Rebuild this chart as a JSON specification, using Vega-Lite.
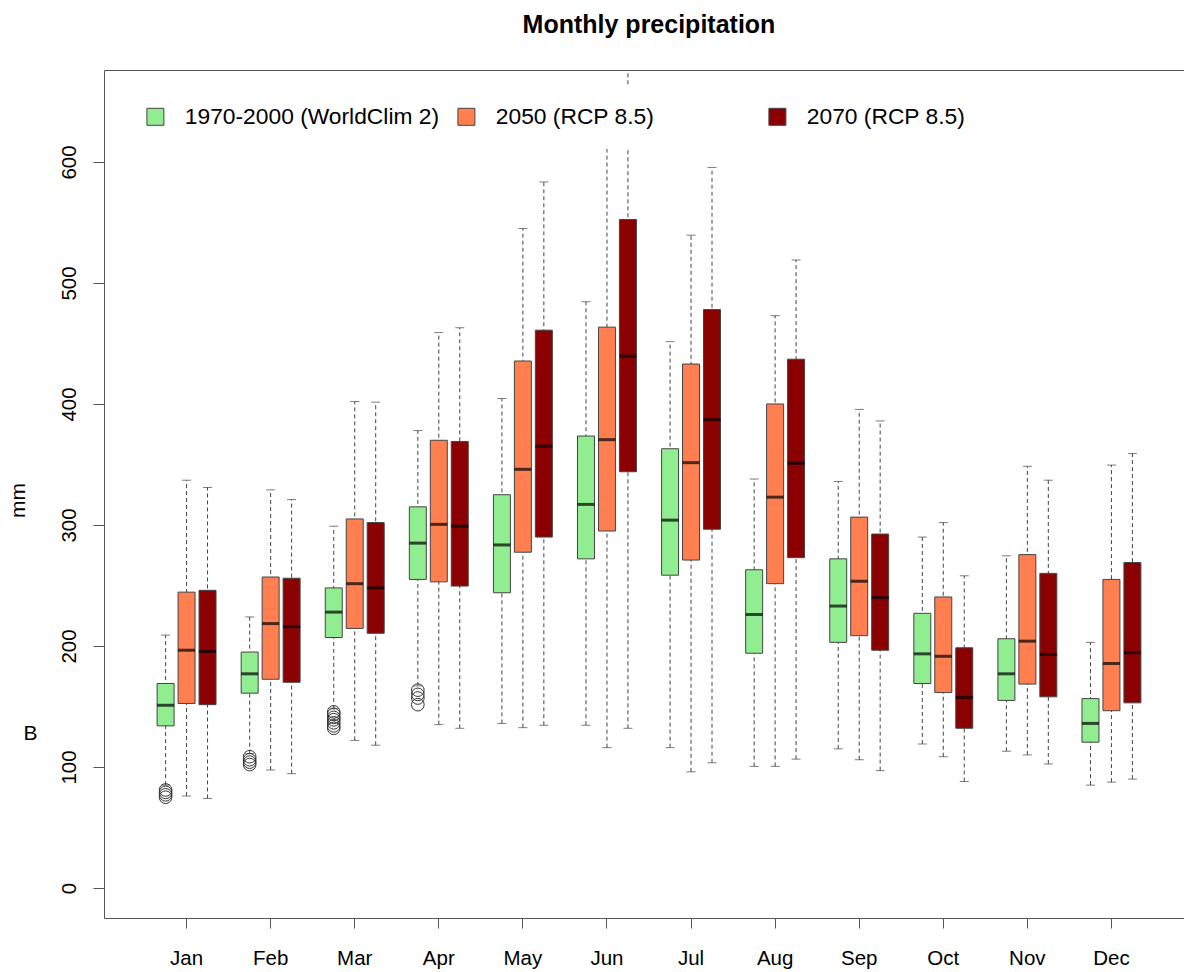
{
  "$schema": "https://vega.github.io/schema/vega-lite/v6.json",
  "autosize": {"type": "none"},
  "width": 1090,
  "height": 848,
  "padding": {"left": 104, "top": 70, "right": 0, "bottom": 54},
  "background": "white",
  "title": {
    "text": "Monthly precipitation",
    "font": "Liberation Sans",
    "fontSize": 25,
    "fontWeight": "bold",
    "color": "black",
    "anchor": "middle",
    "frame": "group",
    "baseline": "alphabetic",
    "offset": 12
  },
  "datasets": {
    "boxes": [
      {"month": "Jan", "period": "1970-2000 (WorldClim 2)", "lo": 85, "q1": 134, "median": 151, "q3": 169, "hi": 209},
      {"month": "Jan", "period": "2050 (RCP 8.5)", "lo": 76, "q1": 152.5, "median": 196.5, "q3": 244.5, "hi": 337},
      {"month": "Jan", "period": "2070 (RCP 8.5)", "lo": 74, "q1": 151.5, "median": 195.5, "q3": 246, "hi": 331},
      {"month": "Feb", "period": "1970-2000 (WorldClim 2)", "lo": 111, "q1": 161, "median": 177, "q3": 195, "hi": 224},
      {"month": "Feb", "period": "2050 (RCP 8.5)", "lo": 97.5, "q1": 172.5, "median": 218.5, "q3": 257, "hi": 329},
      {"month": "Feb", "period": "2070 (RCP 8.5)", "lo": 94.5, "q1": 170, "median": 216, "q3": 256, "hi": 321},
      {"month": "Mar", "period": "1970-2000 (WorldClim 2)", "lo": 148, "q1": 207, "median": 228, "q3": 248, "hi": 299},
      {"month": "Mar", "period": "2050 (RCP 8.5)", "lo": 122, "q1": 214.5, "median": 251.5, "q3": 305, "hi": 402},
      {"month": "Mar", "period": "2070 (RCP 8.5)", "lo": 118, "q1": 210.5, "median": 248, "q3": 302, "hi": 401.5},
      {"month": "Apr", "period": "1970-2000 (WorldClim 2)", "lo": 167, "q1": 255, "median": 285, "q3": 315, "hi": 378},
      {"month": "Apr", "period": "2050 (RCP 8.5)", "lo": 135, "q1": 253, "median": 300.5, "q3": 370, "hi": 459},
      {"month": "Apr", "period": "2070 (RCP 8.5)", "lo": 132, "q1": 249.5, "median": 299, "q3": 369, "hi": 463},
      {"month": "May", "period": "1970-2000 (WorldClim 2)", "lo": 136, "q1": 244, "median": 283.5, "q3": 325, "hi": 404.5},
      {"month": "May", "period": "2050 (RCP 8.5)", "lo": 132.5, "q1": 277.5, "median": 346, "q3": 435.5, "hi": 545},
      {"month": "May", "period": "2070 (RCP 8.5)", "lo": 134.5, "q1": 290, "median": 365, "q3": 461, "hi": 583.5},
      {"month": "Jun", "period": "1970-2000 (WorldClim 2)", "lo": 134.5, "q1": 272, "median": 317, "q3": 373.5, "hi": 484.5},
      {"month": "Jun", "period": "2050 (RCP 8.5)", "lo": 116, "q1": 295, "median": 370.5, "q3": 463.5, "hi": 632},
      {"month": "Jun", "period": "2070 (RCP 8.5)", "lo": 132, "q1": 344, "median": 439.5, "q3": 552.5, "hi": 700},
      {"month": "Jul", "period": "1970-2000 (WorldClim 2)", "lo": 116, "q1": 258.5, "median": 304, "q3": 363, "hi": 451.5},
      {"month": "Jul", "period": "2050 (RCP 8.5)", "lo": 96, "q1": 271, "median": 351.5, "q3": 433, "hi": 539.5},
      {"month": "Jul", "period": "2070 (RCP 8.5)", "lo": 103.5, "q1": 296.5, "median": 387, "q3": 478, "hi": 595.5},
      {"month": "Aug", "period": "1970-2000 (WorldClim 2)", "lo": 100.5, "q1": 194, "median": 226, "q3": 263, "hi": 338},
      {"month": "Aug", "period": "2050 (RCP 8.5)", "lo": 100.5, "q1": 251.5, "median": 323, "q3": 400, "hi": 473},
      {"month": "Aug", "period": "2070 (RCP 8.5)", "lo": 106.5, "q1": 273, "median": 351, "q3": 437, "hi": 519},
      {"month": "Sep", "period": "1970-2000 (WorldClim 2)", "lo": 115, "q1": 203, "median": 233, "q3": 272, "hi": 336},
      {"month": "Sep", "period": "2050 (RCP 8.5)", "lo": 106, "q1": 208.5, "median": 253.5, "q3": 306.5, "hi": 395.5},
      {"month": "Sep", "period": "2070 (RCP 8.5)", "lo": 97, "q1": 196.5, "median": 240, "q3": 292.5, "hi": 386},
      {"month": "Oct", "period": "1970-2000 (WorldClim 2)", "lo": 119, "q1": 169, "median": 193.5, "q3": 227, "hi": 290},
      {"month": "Oct", "period": "2050 (RCP 8.5)", "lo": 108.5, "q1": 161.5, "median": 191.5, "q3": 240.5, "hi": 302},
      {"month": "Oct", "period": "2070 (RCP 8.5)", "lo": 88, "q1": 132, "median": 157.5, "q3": 198.5, "hi": 258},
      {"month": "Nov", "period": "1970-2000 (WorldClim 2)", "lo": 113, "q1": 155, "median": 177, "q3": 206, "hi": 274.5},
      {"month": "Nov", "period": "2050 (RCP 8.5)", "lo": 110, "q1": 168.5, "median": 204, "q3": 275.5, "hi": 348.5},
      {"month": "Nov", "period": "2070 (RCP 8.5)", "lo": 102.5, "q1": 158, "median": 193, "q3": 260, "hi": 337},
      {"month": "Dec", "period": "1970-2000 (WorldClim 2)", "lo": 85, "q1": 120.5, "median": 136, "q3": 156.5, "hi": 203},
      {"month": "Dec", "period": "2050 (RCP 8.5)", "lo": 87.5, "q1": 146.5, "median": 185.5, "q3": 255, "hi": 349.5},
      {"month": "Dec", "period": "2070 (RCP 8.5)", "lo": 90, "q1": 153, "median": 194.5, "q3": 269, "hi": 359}
    ],
    "outliers": [
      {"month": "Jan", "period": "1970-2000 (WorldClim 2)", "value": 75},
      {"month": "Jan", "period": "1970-2000 (WorldClim 2)", "value": 77},
      {"month": "Jan", "period": "1970-2000 (WorldClim 2)", "value": 79},
      {"month": "Jan", "period": "1970-2000 (WorldClim 2)", "value": 81},
      {"month": "Feb", "period": "1970-2000 (WorldClim 2)", "value": 102},
      {"month": "Feb", "period": "1970-2000 (WorldClim 2)", "value": 104},
      {"month": "Feb", "period": "1970-2000 (WorldClim 2)", "value": 106},
      {"month": "Feb", "period": "1970-2000 (WorldClim 2)", "value": 108.5},
      {"month": "Mar", "period": "1970-2000 (WorldClim 2)", "value": 132},
      {"month": "Mar", "period": "1970-2000 (WorldClim 2)", "value": 134},
      {"month": "Mar", "period": "1970-2000 (WorldClim 2)", "value": 136.5},
      {"month": "Mar", "period": "1970-2000 (WorldClim 2)", "value": 139},
      {"month": "Mar", "period": "1970-2000 (WorldClim 2)", "value": 141},
      {"month": "Mar", "period": "1970-2000 (WorldClim 2)", "value": 143.5},
      {"month": "Mar", "period": "1970-2000 (WorldClim 2)", "value": 145.5},
      {"month": "Apr", "period": "1970-2000 (WorldClim 2)", "value": 151.5},
      {"month": "Apr", "period": "1970-2000 (WorldClim 2)", "value": 157},
      {"month": "Apr", "period": "1970-2000 (WorldClim 2)", "value": 160},
      {"month": "Apr", "period": "1970-2000 (WorldClim 2)", "value": 163.5}
    ]
  },
  "encoding": {
    "x": {
      "field": "month",
      "type": "nominal",
      "title": null,
      "scale": {
        "type": "band",
        "domain": ["Jan", "Feb", "Mar", "Apr", "May", "Jun", "Jul", "Aug", "Sep", "Oct", "Nov", "Dec"],
        "paddingInner": 0,
        "paddingOuter": 0.482
      },
      "axis": {
        "orient": "bottom",
        "labelAngle": 0,
        "labelFontSize": 20.5,
        "labelColor": "black",
        "labelPadding": 20,
        "tickSize": 10,
        "tickColor": "#555",
        "domain": false,
        "grid": false
      }
    },
    "xOffset": {
      "field": "period",
      "type": "nominal",
      "scale": {
        "type": "band",
        "domain": ["1970-2000 (WorldClim 2)", "2050 (RCP 8.5)", "2070 (RCP 8.5)"],
        "paddingInner": 0.19,
        "paddingOuter": 0.6
      }
    }
  },
  "layer": [
    {
      "data": {"name": "boxes"},
      "mark": {"type": "rule", "clip": true, "color": "#444", "strokeWidth": 1, "strokeDash": [4, 3]},
      "encoding": {
        "y": {"field": "lo", "type": "quantitative", "scale": {"domain": [-24.8, 676], "nice": false, "zero": false}, "axis": null},
        "y2": {"field": "hi"}
      }
    },
    {
      "data": {"name": "boxes"},
      "mark": {"type": "tick", "clip": true, "color": "#444", "size": 9, "thickness": 1},
      "encoding": {
        "y": {"field": "lo", "type": "quantitative", "scale": {"domain": [-24.8, 676], "nice": false, "zero": false}, "axis": null}
      }
    },
    {
      "data": {"name": "boxes"},
      "mark": {"type": "tick", "clip": true, "color": "#444", "size": 9, "thickness": 1},
      "encoding": {
        "y": {"field": "hi", "type": "quantitative", "scale": {"domain": [-24.8, 676], "nice": false, "zero": false}, "axis": null}
      }
    },
    {
      "data": {"name": "boxes"},
      "mark": {"type": "bar", "stroke": "#444", "strokeWidth": 1, "fillOpacity": 1},
      "encoding": {
        "y": {
          "field": "q1",
          "type": "quantitative",
          "scale": {"domain": [-24.8, 676], "nice": false, "zero": false},
          "axis": {
            "orient": "left",
            "values": [0, 100, 200, 300, 400, 500, 600],
            "title": "mm",
            "titleFontSize": 21,
            "titleFontWeight": "normal",
            "titleColor": "black",
            "titleAngle": 270,
            "titleAlign": "center",
            "titleBaseline": "middle",
            "titleX": -86,
            "titleY": 430,
            "labelAngle": 270,
            "labelAlign": "center",
            "labelBaseline": "alphabetic",
            "labelFontSize": 20.5,
            "labelColor": "black",
            "labelPadding": 18,
            "tickSize": 11,
            "tickColor": "#555",
            "domain": false,
            "grid": false
          }
        },
        "y2": {"field": "q3"},
        "color": {
          "field": "period",
          "type": "nominal",
          "scale": {
            "domain": ["1970-2000 (WorldClim 2)", "2050 (RCP 8.5)", "2070 (RCP 8.5)"],
            "range": ["#90EE90", "#FF7F50", "#8B0000"]
          },
          "legend": {
            "title": null,
            "orient": "none",
            "legendX": 20,
            "legendY": 15,
            "direction": "horizontal",
            "columns": 3,
            "gridAlign": "all",
            "columnPadding": 15,
            "symbolType": "square",
            "symbolSize": 289,
            "symbolStrokeColor": "#444",
            "symbolStrokeWidth": 1,
            "symbolOpacity": 1,
            "labelFontSize": 22.8,
            "labelColor": "black",
            "labelOffset": 18,
            "labelLimit": 400,
            "fillColor": "white",
            "padding": 20
          }
        }
      }
    },
    {
      "data": {"name": "boxes"},
      "mark": {"type": "tick", "color": "black", "size": 17, "thickness": 3},
      "encoding": {
        "y": {"field": "median", "type": "quantitative", "scale": {"domain": [-24.8, 676], "nice": false, "zero": false}, "axis": null}
      }
    },
    {
      "data": {"name": "outliers"},
      "mark": {"type": "point", "shape": "circle", "filled": false, "size": 160, "stroke": "#333", "strokeWidth": 1, "opacity": 1},
      "encoding": {
        "y": {
          "field": "value",
          "type": "quantitative",
          "scale": {"domain": [-24.8, 676], "nice": false, "zero": false},
          "axis": {
            "orient": "left",
            "title": "B",
            "titleAngle": 0,
            "titleAlign": "center",
            "titleBaseline": "middle",
            "titleX": -74,
            "titleY": 663,
            "titleFontSize": 21,
            "titleFontWeight": "normal",
            "titleColor": "black",
            "labels": false,
            "ticks": false,
            "domain": false,
            "grid": false
          }
        }
      }
    }
  ],
  "resolve": {"axis": {"y": "independent"}},
  "config": {
    "font": "Liberation Sans",
    "view": {"stroke": "#555", "strokeWidth": 1}
  }
}
